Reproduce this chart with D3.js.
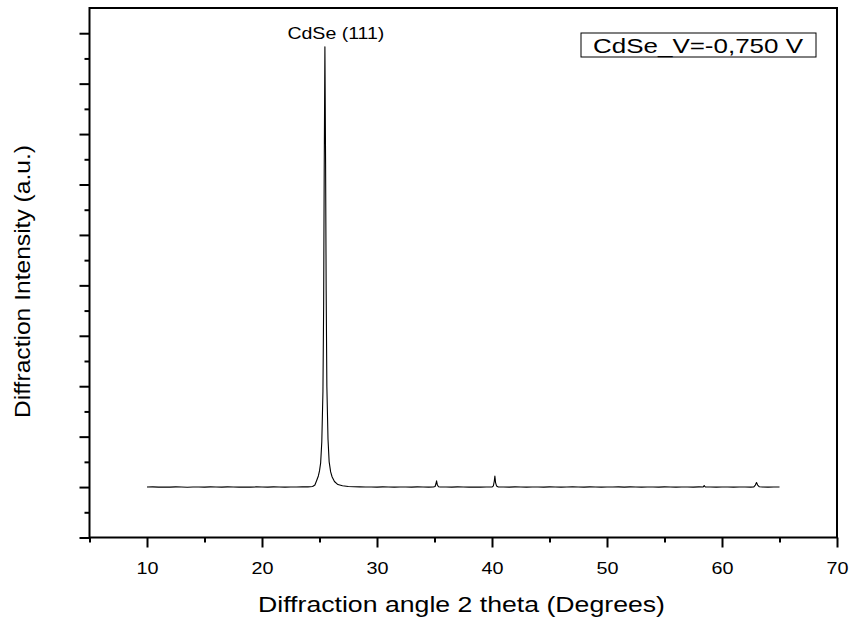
<!DOCTYPE html>
<html><head><meta charset="utf-8">
<script src="https://cdn.jsdelivr.net/npm/d3@7"></script>
<style>
body{margin:0;background:#fff}
text{font-family:"Liberation Sans",Arial,sans-serif;fill:#000}
</style>
</head><body>
<svg id="chart" width="850" height="619"></svg>
<script>
// XRD pattern of electrodeposited CdSe film
const angle = [
  10.0,10.5,11.0,11.5,12.0,12.5,13.0,13.5,14.0,14.5,15.0,15.5,16.0,16.5,17.0,17.5,18.0,18.5,19.0,19.5,
  20.0,20.5,21.0,21.5,22.0,22.5,23.0,23.5,24.0,24.4,24.6,24.77,24.9,25.0,25.1,25.2,25.3,25.36,25.41,25.47,
  25.53,25.58,25.64,25.74,25.84,25.97,26.1,26.3,26.6,27.0,27.5,28.0,28.5,29.0,29.5,30.0,30.5,31.0,31.5,32.0,
  32.5,33.0,33.5,34.0,34.5,34.9,35.05,35.12,35.18,35.25,35.35,35.5,36.0,36.5,37.0,37.5,38.0,38.5,39.0,39.5,
  40.0,40.12,40.2,40.25,40.31,40.4,40.55,41.0,41.5,42.0,42.5,43.0,43.5,44.0,44.5,45.0,45.5,46.0,46.5,47.0,
  47.5,48.0,48.5,49.0,49.5,50.0,50.5,51.0,51.5,52.0,52.5,53.0,53.5,54.0,54.5,55.0,55.5,56.0,56.5,57.0,
  57.5,58.0,58.35,58.45,58.55,59.0,59.5,60.0,60.5,61.0,61.5,62.0,62.5,62.75,62.9,63.0,63.1,63.25,63.5,64.0,
  64.5,65.0
];
const intensity = [
  1.000,1.003,0.998,1.002,0.999,1.004,1.000,0.997,1.002,1.001,0.998,1.003,1.000,0.998,1.004,1.001,0.999,1.002,0.998,1.003,
  1.000,0.999,1.004,1.001,0.998,1.002,1.000,1.003,1.004,1.010,1.040,1.140,1.220,1.320,1.480,1.900,2.900,4.600,7.300,9.730,
  7.400,4.900,3.000,1.950,1.500,1.300,1.200,1.110,1.050,1.025,1.012,1.006,1.003,1.000,1.002,0.999,1.003,1.000,0.998,1.002,
  1.001,0.998,1.003,1.000,0.999,1.000,1.012,1.060,1.125,1.040,1.005,1.000,1.002,0.998,1.003,1.000,0.999,1.002,0.998,1.001,
  1.000,1.025,1.120,1.220,1.090,1.020,1.000,1.002,0.999,1.003,1.000,0.998,1.002,1.001,0.999,1.003,1.000,0.998,1.002,1.004,
  1.000,0.999,1.003,1.001,0.998,1.002,1.000,1.003,0.999,1.004,1.001,0.998,1.002,1.000,0.999,1.003,1.001,0.998,1.002,1.000,
  0.999,1.003,1.000,1.030,1.001,1.000,0.999,1.002,1.000,0.998,1.002,1.001,0.999,1.000,1.040,1.090,1.040,1.005,1.000,0.999,
  1.001,1.000
];
const xTicks = [10,20,30,40,50,60,70];
const xMinor = [5,15,25,35,45,55,65];
const yTicks = [0,1,2,3,4,5,6,7,8,9,10];
const yMinor = [0.5,1.5,2.5,3.5,4.5,5.5,6.5,7.5,8.5,9.5];
const seriesLabel = "CdSe_V=-0,750 V";
const peakLabel = "CdSe (111)";
const peakAngle = 25.47, peakValue = 9.73;
const xTitle = "Diffraction angle 2 theta (Degrees)";
const yTitle = "Diffraction Intensity (a.u.)";

const svg = d3.select("#chart");
const L = 89.5, R = 837, T = 8, B = 537.5;
const x = d3.scaleLinear().domain([5,70]).range([L,R]);
const y = d3.scaleLinear().domain([0,10.5]).range([B,T]);

// pattern
const line = d3.line().x((d,i)=>x(angle[i])).y(d=>y(d));
svg.append("path").datum(intensity).attr("d",line)
  .attr("fill","none").attr("stroke","#000").attr("stroke-width",1.1)
  .attr("stroke-linejoin","round");

// axes: majors labelled on x, ticks only on y
const xAxis = svg.append("g").attr("transform",`translate(0,${B})`)
  .call(d3.axisBottom(x).tickValues(xTicks).tickSize(10).tickPadding(0).tickFormat(d3.format("d")));
xAxis.select(".domain").remove();
xAxis.selectAll("line").attr("stroke-width",2);
xAxis.selectAll("text").attr("font-size",17).attr("font-family",'"Liberation Sans",Arial,sans-serif')
  .attr("dy",null).attr("y",36.5)
  .attr("textLength",22).attr("lengthAdjust","spacingAndGlyphs");
svg.append("g").attr("transform",`translate(0,${B})`)
  .call(d3.axisBottom(x).tickValues(xMinor).tickSize(5).tickFormat(""))
  .call(g=>{g.select(".domain").remove();g.selectAll("line").attr("stroke-width",2);});

svg.append("g").attr("transform",`translate(${L},0)`)
  .call(d3.axisLeft(y).tickValues(yTicks).tickSize(10).tickFormat(""))
  .call(g=>{g.select(".domain").remove();g.selectAll("line").attr("stroke-width",2);});
svg.append("g").attr("transform",`translate(${L},0)`)
  .call(d3.axisLeft(y).tickValues(yMinor).tickSize(5).tickFormat(""))
  .call(g=>{g.select(".domain").remove();g.selectAll("line").attr("stroke-width",2);});

// frame
svg.append("rect").attr("x",L).attr("y",T).attr("width",R-L).attr("height",B-T)
  .attr("fill","none").attr("stroke","#000").attr("stroke-width",2);

// titles
svg.append("text").attr("x",461.5).attr("y",612).attr("text-anchor","middle")
  .attr("font-size",22.5).attr("textLength",407).attr("lengthAdjust","spacingAndGlyphs").text(xTitle);
svg.append("text").attr("transform",`translate(30,281.5) rotate(-90)`)
  .attr("text-anchor","middle").attr("font-size",22)
  .attr("textLength",273).attr("lengthAdjust","spacingAndGlyphs").text(yTitle);

// peak annotation
svg.append("text").attr("x",x(peakAngle)+11).attr("y",39)
  .attr("text-anchor","middle").attr("font-size",17)
  .attr("textLength",97).attr("lengthAdjust","spacingAndGlyphs").text(peakLabel);

// legend
svg.append("rect").attr("x",581).attr("y",33).attr("width",235).attr("height",24)
  .attr("fill","none").attr("stroke","#000").attr("stroke-width",1);
svg.append("text").attr("x",593).attr("y",53).attr("font-size",21)
  .attr("textLength",210).attr("lengthAdjust","spacingAndGlyphs").text(seriesLabel);
</script>
</body></html>
